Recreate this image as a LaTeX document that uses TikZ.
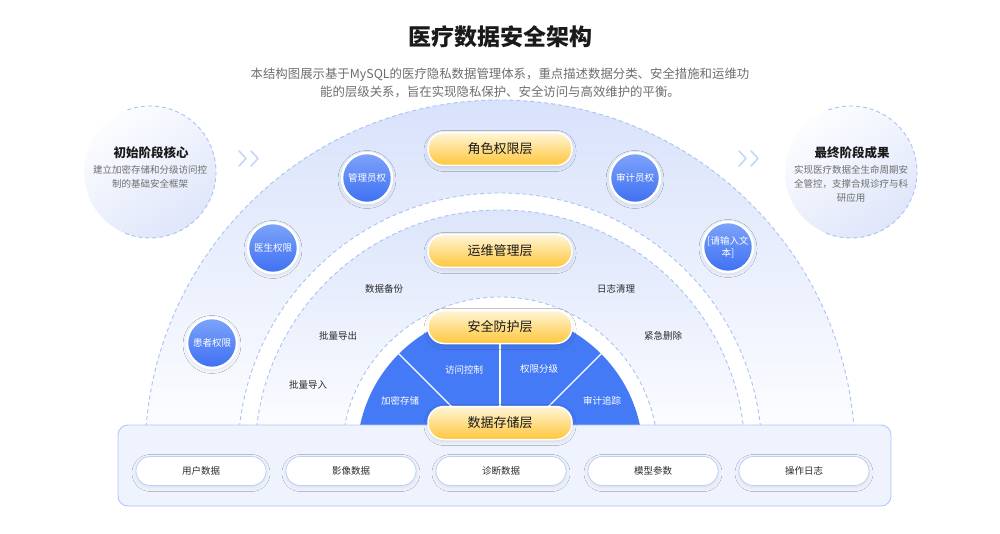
\documentclass[tikz,border=0pt]{standalone}
\usepackage{fontspec}
\setmainfont{Noto Sans CJK SC}
\usetikzlibrary{shadows.blur}
\definecolor{dashc}{HTML}{A9C2F5}
\definecolor{bandT}{HTML}{D8E2FB}
\definecolor{bandM}{HTML}{F6F8FF}
\definecolor{bandT2}{HTML}{DCE5FB}
\definecolor{sectc}{HTML}{457AF6}
\definecolor{roleT}{HTML}{7DA3FA}
\definecolor{roleB}{HTML}{3E70F2}
\definecolor{ylT}{HTML}{FFF6D8}
\definecolor{ylB}{HTML}{FFC63A}
\definecolor{panelF}{HTML}{EEF3FE}
\definecolor{panelD}{HTML}{B1C8F8}
\definecolor{pillD}{HTML}{BDD0F8}
\definecolor{titlec}{HTML}{1A1A1A}
\definecolor{subc}{HTML}{6E6E6E}
\definecolor{chevc}{HTML}{C3D8F8}
\definecolor{txtc}{HTML}{2B2B2B}
\definecolor{circT}{HTML}{FCFDFF}
\definecolor{circB}{HTML}{DFE6FA}
\begin{document}
\begin{tikzpicture}[x=1pt,y=-1pt,
  dashline/.style={draw=dashc, line width=0.9pt, dash pattern=on 4pt off 3pt},
  layerpill/.style={rounded corners=16pt, minimum width=144pt, minimum height=33pt, inner sep=0pt,
    top color=ylT, bottom color=ylB, draw=white, line width=1.5pt,
    blur shadow={shadow xshift=0pt, shadow yshift=-2pt, shadow blur radius=4pt, shadow opacity=12},
    font=\fontsize{13}{15}\selectfont, text=titlec},
  rolec/.style={circle, minimum size=50pt, inner sep=0pt, top color=roleT, bottom color=roleB,
    draw=white, line width=2.5pt,
    blur shadow={shadow xshift=0pt, shadow yshift=-1.5pt, shadow blur radius=4pt, shadow opacity=12},
    text=white, font=\fontsize{9.5}{12}\selectfont, align=center},
  bandlabel/.style={font=\fontsize{9.5}{12}\selectfont, text=txtc},
  sectlabel/.style={font=\fontsize{9.5}{12}\selectfont, text=white},
  datapill/.style={rounded corners=14.5pt, minimum width=130pt, minimum height=29pt, inner sep=0pt,
    fill=white, draw=pillD, line width=0.8pt,
    blur shadow={shadow xshift=0pt, shadow yshift=-2pt, shadow blur radius=4pt, shadow opacity=8},
    font=\fontsize{9.5}{12}\selectfont, text=txtc},
  sidecirc/.style={circle, minimum size=132pt, inner sep=0pt, top color=circT, bottom color=circB, shading angle=35},
  chev/.style={draw=chevc, line width=1.6pt, line cap=round, line join=round}
]
\useasboundingbox (0,0) rectangle (1000,534);
\fill[white] (0,0) rectangle (1000,534);

% ---- concentric bands ----
\shade[top color=bandT, middle color=bandM, bottom color=white]
  (500,455) ++(180:355pt) arc[start angle=180, end angle=0, radius=355pt] -- cycle;
\draw[dashline] (500,455) ++(180:355pt) arc[start angle=180, end angle=0, radius=355pt];
\fill[white] (500,455) ++(180:262pt) arc[start angle=180, end angle=0, radius=262pt] -- cycle;
\draw[dashline] (500,455) ++(180:262pt) arc[start angle=180, end angle=0, radius=262pt];
\shade[top color=bandT2, middle color=bandM, bottom color=white]
  (500,455) ++(180:245pt) arc[start angle=180, end angle=0, radius=245pt] -- cycle;
\draw[dashline] (500,455) ++(180:245pt) arc[start angle=180, end angle=0, radius=245pt];
\fill[white] (500,455) ++(180:158pt) arc[start angle=180, end angle=0, radius=158pt] -- cycle;
\draw[dashline] (500,455) ++(180:158pt) arc[start angle=180, end angle=0, radius=158pt];

% ---- blue sector ----
\coordinate (ctr) at (500,455);
\fill[sectc] (ctr) ++(180:143pt) arc[start angle=180, end angle=0, radius=143pt] -- cycle;
\path (ctr) ++(135:143pt) coordinate (e1);
\path (ctr) ++(90:143pt) coordinate (e2);
\path (ctr) ++(45:143pt) coordinate (e3);
\draw[white, line width=1.3pt] (ctr) -- (e1);
\draw[white, line width=1.3pt] (ctr) -- (e2);
\draw[white, line width=1.3pt] (ctr) -- (e3);
\node[sectlabel] (s1) at (400,401) {加密存储};
\node[sectlabel] (s2) at (464,370) {访问控制};
\node[sectlabel] (s3) at (539,369) {权限分级};
\node[sectlabel] (s4) at (602,401) {审计追踪};

% ---- bottom panel ----
\draw[fill=panelF, draw=panelD, line width=0.9pt, rounded corners=10pt] (118,425) rectangle (891,506);
\node[datapill] (p1) at (201,471) {用户数据};
\node[datapill] (p2) at (351,471) {影像数据};
\node[datapill] (p3) at (501,471) {诊断数据};
\node[datapill] (p4) at (653,471) {模型参数};
\node[datapill] (p5) at (804,471) {操作日志};

% ---- layer pills ----
\node[layerpill] (L1) at (500,149) {角色权限层};
\node[layerpill] (L2) at (500,251) {运维管理层};
\node[layerpill] (L3) at (500,327) {安全防护层};
\node[layerpill] (L4) at (500,423) {数据存储层};

% ---- role circles ----
\node[rolec] (r1) at (367,178) {管理员权};
\node[rolec] (r2) at (635,178) {审计员权};
\node[rolec] (r3) at (273,248) {医生权限};
\node[rolec] (r4) at (728,247) {[请输入文\\本]};
\node[rolec] (r5) at (212,343) {患者权限};

% ---- band labels ----
\node[bandlabel] (b1) at (384,289) {数据备份};
\node[bandlabel] (b2) at (616,289) {日志清理};
\node[bandlabel] (b3) at (338,336) {批量导出};
\node[bandlabel] (b4) at (663,336) {紧急删除};
\node[bandlabel] (b5) at (308,385) {批量导入};

% ---- side circles ----
\node[sidecirc] (lc) at (150,172) {};
\draw[dashline] (lc.center) ++(110:66pt) arc[start angle=110, end angle=-115, radius=66pt];
\node[font=\bfseries\fontsize{12.5}{14}\selectfont, text=titlec] (lct) at (151,153) {初始阶段核心};
\node[font=\fontsize{9.5}{14}\selectfont, text=subc, align=center] (lcd) at (150,177) {建立加密存储和分级访问控\\制的基础安全框架};

\node[sidecirc] (rc) at (851,172) {};
\draw[dashline] (rc.center) ++(110:66pt) arc[start angle=110, end angle=-115, radius=66pt];
\node[font=\bfseries\fontsize{12.5}{14}\selectfont, text=titlec] (rct) at (852,153) {最终阶段成果};
\node[font=\fontsize{9.5}{14}\selectfont, text=subc, align=center] (rcd) at (851,184) {实现医疗数据全生命周期安\\全管控，支撑合规诊疗与科\\研应用};

% ---- chevrons ----
\draw[chev] (239,151) -- (246,158.5) -- (239,166);
\draw[chev] (251,151) -- (258,158.5) -- (251,166);
\draw[chev] (739,151) -- (746,158.5) -- (739,166);
\draw[chev] (751,151) -- (758,158.5) -- (751,166);

% ---- title ----
\node[font=\bfseries\fontsize{23}{26}\selectfont, text=titlec] (title) at (500,37) {医疗数据安全架构};
\node[font=\fontsize{12.4}{18}\selectfont, text=subc, align=center] (sub) at (500,83)
  {本结构图展示基于MySQL的医疗隐私数据管理体系，重点描述数据分类、安全措施和运维功\\能的层级关系，旨在实现隐私保护、安全访问与高效维护的平衡。};
\end{tikzpicture}
\end{document}
